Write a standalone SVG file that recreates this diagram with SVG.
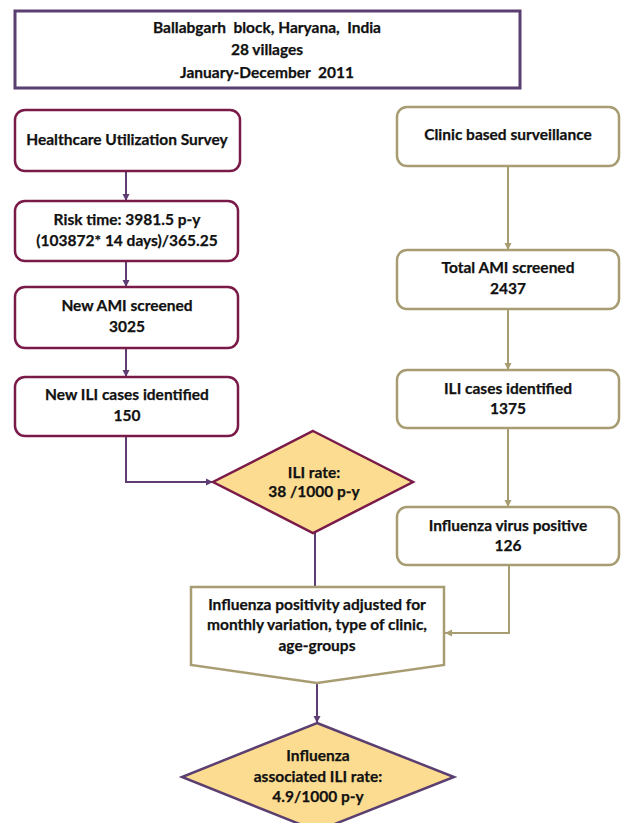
<svg xmlns="http://www.w3.org/2000/svg" width="622" height="823" viewBox="0 0 622 823">
<style>
text{font-family:Lato,"Liberation Sans",Arial,sans-serif;font-weight:bold;font-size:15.5px;fill:#111;text-anchor:middle;stroke:#111;stroke-width:0.25;white-space:pre}
.lb{fill:#fff;stroke:#7a1a48;stroke-width:2.5}
.rb{fill:#fff;stroke:#a89d72;stroke-width:2.5}
.dm{fill:#fcdc90;stroke-width:2.5}
.cl{fill:none;stroke:#5e3d72;stroke-width:2}
.cr{fill:none;stroke:#a89d72;stroke-width:2}
</style>
<defs>
<marker id="ap" markerWidth="8" markerHeight="8" refX="7" refY="4" orient="auto" markerUnits="userSpaceOnUse"><path d="M0,0.5 L7,4 L0,7.5 Z" fill="#5e3d72"/></marker>
<marker id="at" markerWidth="8" markerHeight="8" refX="7" refY="4" orient="auto" markerUnits="userSpaceOnUse"><path d="M0,0.5 L7,4 L0,7.5 Z" fill="#a89d72"/></marker>
</defs>
<rect width="622" height="823" fill="#fff"/>
<g id="connectors">
<path class="cl" d="M126,171 V201" marker-end="url(#ap)"/>
<path class="cl" d="M126,261 V287" marker-end="url(#ap)"/>
<path class="cl" d="M126,348 V377" marker-end="url(#ap)"/>
<path class="cl" d="M126,436 V482 H213" marker-end="url(#ap)"/>
<path class="cl" d="M315,533 V587"/>
<path class="cl" d="M317,683 V723" marker-end="url(#ap)"/>
<path class="cr" d="M508,166 V250" marker-end="url(#at)"/>
<path class="cr" d="M508,309 V370" marker-end="url(#at)"/>
<path class="cr" d="M508,428 V507" marker-end="url(#at)"/>
<path class="cr" d="M509,565 V633 H445" marker-end="url(#at)"/>
</g>
<g id="header">
<rect x="15" y="11" width="505" height="77" fill="#fff" stroke="#5b3f70" stroke-width="3"/>
<text x="267" y="33" xml:space="preserve">Ballabgarh  block, Haryana,  India</text>
<text x="267" y="55">28 villages</text>
<text x="267" y="78" xml:space="preserve">January-December  2011</text>
</g>
<g id="hus">
<rect class="lb" x="15" y="110" width="225" height="61" rx="10"/>
<text x="127" y="145">Healthcare Utilization Survey</text>
</g>
<g id="risk">
<rect class="lb" x="15" y="201" width="223" height="60" rx="10"/>
<text x="127" y="225">Risk time: 3981.5 p-y</text>
<text x="127" y="246">(103872* 14 days)/365.25</text>
</g>
<g id="newami">
<rect class="lb" x="15" y="287" width="223" height="61" rx="10"/>
<text x="127" y="311">New AMI screened</text>
<text x="127" y="332">3025</text>
</g>
<g id="newili">
<rect class="lb" x="15" y="377" width="223" height="59" rx="10"/>
<text x="127" y="400">New ILI cases identified</text>
<text x="127" y="421">150</text>
</g>
<g id="ilirate">
<polygon class="dm" stroke="#7a1a48" points="313,431 413,482 313,533 213,482"/>
<text x="314" y="478">ILI rate:</text>
<text x="314" y="497">38 /1000 p-y</text>
</g>
<g id="clinic">
<rect class="rb" x="397" y="107" width="222" height="59" rx="10"/>
<text x="508" y="140">Clinic based surveillance</text>
</g>
<g id="totalami">
<rect class="rb" x="397" y="250" width="222" height="59" rx="10"/>
<text x="508" y="273">Total AMI screened</text>
<text x="508" y="294">2437</text>
</g>
<g id="ilicases">
<rect class="rb" x="397" y="370" width="222" height="58" rx="10"/>
<text x="508" y="394">ILI cases identified</text>
<text x="508" y="414">1375</text>
</g>
<g id="flupos">
<rect class="rb" x="397" y="507" width="222" height="58" rx="10"/>
<text x="508" y="531">Influenza virus positive</text>
<text x="508" y="551">126</text>
</g>
<g id="adjusted">
<polygon fill="#fff" stroke="#a89d72" stroke-width="2.5" points="191,587 444,587 444,665 317,683 191,665"/>
<text x="317" y="610">Influenza positivity adjusted for</text>
<text x="317" y="630">monthly variation, type of clinic,</text>
<text x="317" y="651">age-groups</text>
</g>
<g id="fluili">
<polygon class="dm" stroke="#5b3f70" points="317,723 454,777 317,831 182,777"/>
<text x="318" y="761">Influenza</text>
<text x="318" y="782">associated ILI rate:</text>
<text x="318" y="802">4.9/1000 p-y</text>
</g>
</svg>
